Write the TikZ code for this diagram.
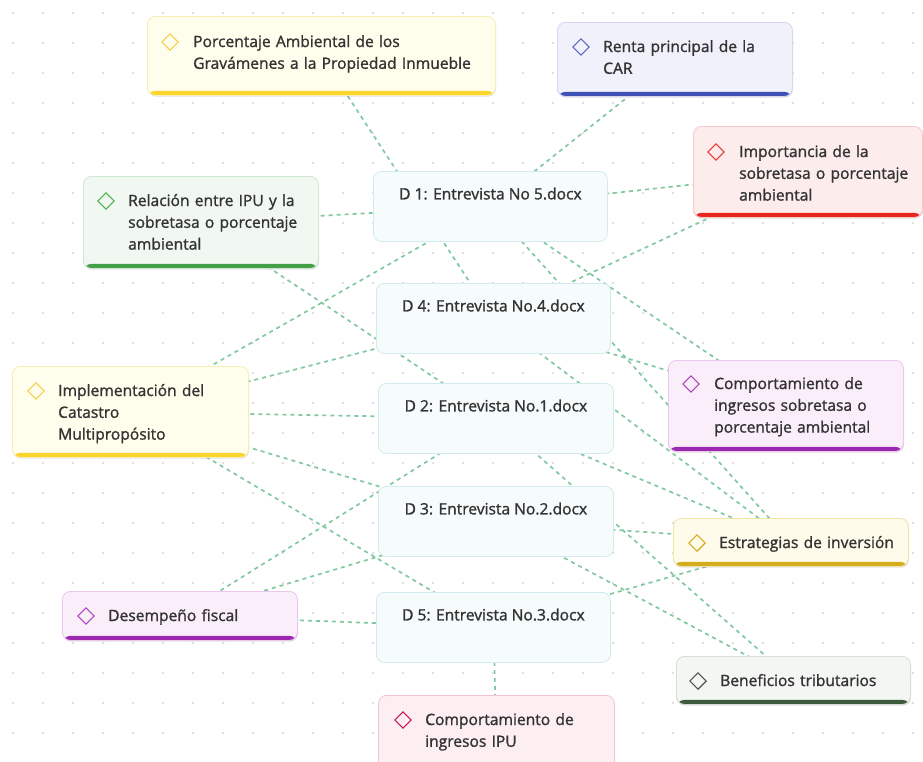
\documentclass[tikz,border=0pt]{standalone}
\usepackage{fontspec}
\setmainfont{Open Sans}[FakeBold=1.3]
\usetikzlibrary{shadows}
\definecolor{txt}{HTML}{333333}
\definecolor{dotc}{HTML}{D6D6D6}
\definecolor{edgec}{HTML}{82C99F}
\definecolor{dfill}{HTML}{F6FBFC}
\definecolor{ddraw}{HTML}{D3EBEE}
% code colours
\definecolor{fillYel}{HTML}{FFFDEB}\definecolor{drawYel}{HTML}{F7EEB5}\definecolor{barYel}{HTML}{FBD42C}\definecolor{diaYel}{HTML}{F2D04A}
\definecolor{fillBlu}{HTML}{F1F1FB}\definecolor{drawBlu}{HTML}{D5D7F0}\definecolor{barBlu}{HTML}{3F51B5}\definecolor{diaBlu}{HTML}{5C6BC0}
\definecolor{fillRed}{HTML}{FDECEC}\definecolor{drawRed}{HTML}{F6C9C9}\definecolor{barRed}{HTML}{E8261F}\definecolor{diaRed}{HTML}{E53935}
\definecolor{fillGrn}{HTML}{F1F8F1}\definecolor{drawGrn}{HTML}{CFE8CF}\definecolor{barGrn}{HTML}{43A047}\definecolor{diaGrn}{HTML}{4CAF50}
\definecolor{fillPur}{HTML}{FBEEFB}\definecolor{drawPur}{HTML}{EBC6EE}\definecolor{barPur}{HTML}{9C27B0}\definecolor{diaPur}{HTML}{AB47BC}
\definecolor{fillOch}{HTML}{FFFBEA}\definecolor{drawOch}{HTML}{F0E3A8}\definecolor{barOch}{HTML}{D4AD1D}\definecolor{diaOch}{HTML}{D4AD1D}
\definecolor{fillDkg}{HTML}{F3F6F3}\definecolor{drawDkg}{HTML}{D5DFD5}\definecolor{barDkg}{HTML}{3C5A3C}\definecolor{diaDkg}{HTML}{4A574A}
\definecolor{fillPnk}{HTML}{FDEEF2}\definecolor{drawPnk}{HTML}{F3C4D0}\definecolor{barPnk}{HTML}{C2185B}\definecolor{diaPnk}{HTML}{C2185B}
\pgfdeclarelayer{grid}
\pgfdeclarelayer{edges}
\pgfsetlayers{grid,edges,main}
\tikzset{
  docbox/.style={draw=ddraw, fill=dfill, line width=0.8pt, rounded corners=8pt,
    minimum width=234pt, text height=28pt, text depth=42pt, inner xsep=0pt, inner ysep=0pt,
    anchor=north west, font=\fontsize{15.6}{18}\selectfont, text=txt},
  codebox/.style n args={3}{draw=#1, fill=#2, line width=0.8pt, rounded corners=8pt,
    anchor=north west, inner sep=0pt,
    drop shadow={shadow xshift=0.6pt, shadow yshift=-1.2pt, opacity=0.12, fill=black},
    path picture={\fill[#3] ([yshift=4.5pt]path picture bounding box.south west) rectangle (path picture bounding box.south east);}},
  codetext/.style={anchor=base west, align=left, text width=340pt, inner sep=0pt,
    font=\fontsize{15.6}{21.8}\selectfont, text=txt},
  diam/.style={draw=#1, line width=1.2pt, rotate=45, minimum size=11.5pt, inner sep=0pt},
  edge/.style={draw=edgec, line width=1.7pt, dash pattern=on 4pt off 4pt},
}
\begin{document}
\begin{tikzpicture}[x=1pt,y=-1pt]
\useasboundingbox (0,0) rectangle (923,761);
\begin{pgfonlayer}{grid}
\fill[white] (0,0) rectangle (923,761);
\foreach \x in {13,43,...,913}{\foreach \y in {13,43,...,753}{\fill[dotc] (\x,\y) circle (1.1pt);}}
\end{pgfonlayer}

% document boxes
\node[docbox] (d1) at (373,171) {D 1: Entrevista No 5.docx};
\node[docbox] (d4) at (376,283) {D 4: Entrevista No.4.docx};
\node[docbox, minimum width=235pt] (d2) at (378,383) {D 2: Entrevista No.1.docx};
\node[docbox, minimum width=235pt] (d3) at (378,486) {D 3: Entrevista No.2.docx};
\node[docbox] (d5) at (376,592) {D 5: Entrevista No.3.docx};

% code boxes
\node[codebox={drawYel}{fillYel}{barYel}, minimum width=348pt, minimum height=79pt] (p) at (147,16) {};
\node[diam=diaYel] (pdm) at (170,42) {};
\node[codetext] (ptx) at (193,47) {Porcentaje Ambiental de los\\Gravámenes a la Propiedad Inmueble};

\node[codebox={drawBlu}{fillBlu}{barBlu}, minimum width=235pt, minimum height=74pt] (r) at (557,22) {};
\node[diam=diaBlu] (rdm) at (581,47) {};
\node[codetext] (rtx) at (603,52) {Renta principal de la\\CAR};

\node[codebox={drawRed}{fillRed}{barRed}, minimum width=229pt, minimum height=91pt] (ia) at (693,126) {};
\node[diam=diaRed] (iadm) at (716,152) {};
\node[codetext] (iatx) at (739,157) {Importancia de la\\sobretasa o porcentaje\\ambiental};

\node[codebox={drawGrn}{fillGrn}{barGrn}, minimum width=235pt, minimum height=92pt] (rel) at (83,176) {};
\node[diam=diaGrn] (reldm) at (106,201) {};
\node[codetext] (reltx) at (128,206) {Relación entre IPU y la\\sobretasa o porcentaje\\ambiental};

\node[codebox={drawYel}{fillYel}{barYel}, minimum width=236pt, minimum height=91pt] (cm) at (12,366) {};
\node[diam=diaYel] (cmdm) at (36,391) {};
\node[codetext] (cmtx) at (58,396) {Implementación del\\Catastro\\Multipropósito};

\node[codebox={drawPur}{fillPur}{barPur}, minimum width=235pt, minimum height=91pt] (cs) at (668,360) {};
\node[diam=diaPur] (csdm) at (691,384) {};
\node[codetext] (cstx) at (714,389) {Comportamiento de\\ingresos sobretasa o\\porcentaje ambiental};

\node[codebox={drawOch}{fillOch}{barOch}, minimum width=235pt, minimum height=48pt] (est) at (673,518) {};
\node[diam=diaOch] (estdm) at (697,543) {};
\node[codetext] (esttx) at (719,548) {Estrategias de inversión};

\node[codebox={drawPur}{fillPur}{barPur}, minimum width=235pt, minimum height=49pt] (des) at (62,591) {};
\node[diam=diaPur] (desdm) at (86,616) {};
\node[codetext] (destx) at (108,621) {Desempeño fiscal};

\node[codebox={drawDkg}{fillDkg}{barDkg}, minimum width=234pt, minimum height=48pt] (ben) at (676,656) {};
\node[diam=diaDkg] (bendm) at (698,681) {};
\node[codetext] (bentx) at (720,686) {Beneficios tributarios};

\node[codebox={drawPnk}{fillPnk}{barPnk}, minimum width=236pt, minimum height=85pt] (ipu) at (378,695) {};
\node[diam=diaPnk] (ipudm) at (403,720) {};
\node[codetext] (iputx) at (425,725) {Comportamiento de\\ingresos IPU};

% connectors
\begin{pgfonlayer}{edges}
\draw[edge] (p.center) -- (d4.center);
\draw[edge] (r.center) -- (d1.center);
\draw[edge] (ia.center) -- (d1.center);
\draw[edge] (ia.center) -- (d4.center);
\draw[edge] (rel.center) -- (d1.center);
\draw[edge] (rel.center) -- (d2.center);
\draw[edge] (cm.center) -- (d1.center);
\draw[edge] (cm.center) -- (d4.center);
\draw[edge] (cm.center) -- (d2.center);
\draw[edge] (cm.center) -- (d3.center);
\draw[edge] (cm.center) -- (d5.center);
\draw[edge] (des.center) -- (d2.center);
\draw[edge] (des.center) -- (d3.center);
\draw[edge] (des.center) -- (d5.center);
\draw[edge] (cs.center) -- (d1.center);
\draw[edge] (cs.center) -- (d4.center);
\draw[edge] (est.center) -- (d1.center);
\draw[edge] (est.center) -- (d4.center);
\draw[edge] (est.center) -- (d2.center);
\draw[edge] (est.center) -- (d3.center);
\draw[edge] (est.center) -- (d5.center);
\draw[edge] (ben.center) -- (d2.center);
\draw[edge] (ben.center) -- (d3.center);
\draw[edge] (ipu.center) -- (d5.center);
\end{pgfonlayer}
\end{tikzpicture}
\end{document}
